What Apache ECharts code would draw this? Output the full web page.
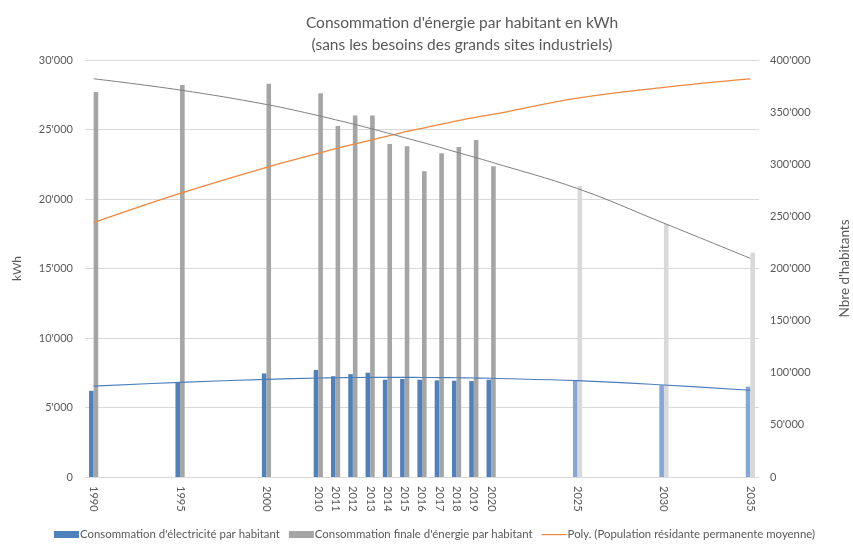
<!DOCTYPE html>
<html>
<head>
<meta charset="utf-8">
<script src="https://cdn.jsdelivr.net/npm/echarts@6/dist/echarts.min.js"></script>
<style>
  html, body { margin: 0; padding: 0; background: #fff; }
  #chart { width: 853px; height: 549px; }
</style>
</head>
<body>
<div id="chart"></div>
<script>
// Years shown on the horizontal axis
const years = ['1990', '1995', '2000', '2010', '2011', '2012', '2013', '2014', '2015',
               '2016', '2017', '2018', '2019', '2020', '2025', '2030', '2035'];
// Number of empty axis slots placed before each year
const gapsBefore = [0, 4, 4, 2, 0, 0, 0, 0, 0, 0, 0, 0, 0, 0, 4, 4, 4];
// First year of the projection period
const projectionFrom = 2025;

// Electricity consumption per inhabitant (kWh)
const electricity = [6200, 6800, 7450, 7700, 7250, 7400, 7500, 7000, 7050,
                     7000, 6950, 6930, 6900, 7000, 6930, 6600, 6500];
// Final energy consumption per inhabitant (kWh)
const finalEnergy = [27700, 28200, 28300, 27600, 25250, 26000, 26000, 23950, 23800,
                     22000, 23300, 23750, 24250, 22350, 20950, 18200, 16150];
// Polynomial trend of the resident population (inhabitants)
const populationTrend = [244000, 272000, 297000, 310500, 315000, 319000, 323000, 327000, 331000,
                         334500, 338000, 341500, 344800, 347500, 363500, 373800, 381800];
// Polynomial trend of electricity consumption (kWh)
const electricityTrend = [6540, 6810, 7025, 7120, 7140, 7160, 7170, 7170, 7170,
                          7160, 7150, 7140, 7120, 7100, 6930, 6620, 6240];
// Polynomial trend of final energy consumption (kWh)
const energyTrend = [28650, 27840, 26800, 26000, 25700, 25400, 25080, 24750, 24410,
                     24080, 23730, 23370, 23020, 22660, 20750, 18260, 15730];

const NAME_ELEC = "Consommation d'électricité par habitant";
const NAME_ENERGY = "Consommation finale d'énergie par habitant";
const NAME_POP = 'Poly. (Population résidante permanente moyenne)';

// Build the slotted category axis and place each value on its year
const categories = [];
const slotOfYear = [];
years.forEach((y, i) => {
  for (let g = 0; g < gapsBefore[i]; g++) categories.push('gap-' + categories.length);
  slotOfYear.push(categories.length);
  categories.push(y);
});

function place(values, styler) {
  const out = categories.map(() => null);
  values.forEach((v, i) => {
    out[slotOfYear[i]] = styler ? styler(v, i) : v;
  });
  return out;
}
const isProjection = i => Number(years[i]) >= projectionFrom;
const barData = (values, base, light) =>
  place(values, (v, i) => ({ value: v, itemStyle: { color: isProjection(i) ? light : base } }));

const fmt = v => String(v).replace(/\B(?=(\d{3})+(?!\d))/g, "'");
const FONT = 'Lato';
const TXT = '#595959';
// Thin horizontal stroke used as the legend key of the trend line
const LINE_KEY = 'path://M0,0 M0,3 L25,3 L25,4.2 L0,4.2 Z M25,7';

const chart = echarts.init(document.getElementById('chart'), null, { renderer: 'canvas' });
chart.setOption({
  animation: false,
  backgroundColor: '#fff',
  title: {
    text: "Consommation d'énergie par habitant en kWh\n(sans les besoins des grands sites industriels)",
    left: 457, textAlign: 'center', top: 7,
    textStyle: { fontFamily: FONT, fontSize: 15.5, fontWeight: 'normal', color: TXT, lineHeight: 22 }
  },
  legend: {
    left: 54, bottom: 9, padding: 0,
    itemWidth: 25, itemHeight: 7, itemGap: 9,
    textStyle: { fontFamily: FONT, fontSize: 11.4, color: TXT, padding: [0, 0, 0, -4] },
    data: [
      { name: NAME_ELEC, icon: 'rect' },
      { name: NAME_ENERGY, icon: 'rect' },
      { name: NAME_POP, icon: LINE_KEY }
    ]
  },
  grid: { left: 85, right: 94, top: 60, bottom: 72, containLabel: false, outerBoundsMode: 'none' },
  xAxis: {
    type: 'category',
    data: categories,
    boundaryGap: true,
    axisLine: { lineStyle: { color: '#d9d9d9' } },
    axisTick: { show: false },
    axisLabel: {
      interval: 0, rotate: -90, margin: 9,
      fontFamily: FONT, fontSize: 11, color: TXT,
      formatter: v => (v.startsWith('gap-') ? '' : v)
    }
  },
  yAxis: [
    {
      type: 'value', min: 0, max: 30000, interval: 5000,
      name: 'kWh', nameLocation: 'middle', nameGap: 62, nameRotate: 90,
      nameTextStyle: { fontFamily: FONT, fontSize: 12, color: TXT },
      axisLine: { show: false }, axisTick: { show: false },
      axisLabel: { fontFamily: FONT, fontSize: 11, color: TXT, margin: 12, formatter: fmt },
      splitLine: { lineStyle: { color: '#d9d9d9' } }
    },
    {
      type: 'value', min: 0, max: 400000, interval: 50000,
      name: "Nbre d'habitants", nameLocation: 'middle', nameGap: 79, nameRotate: 90,
      nameTextStyle: { fontFamily: FONT, fontSize: 13.5, color: TXT },
      axisLine: { show: false }, axisTick: { show: false },
      axisLabel: { fontFamily: FONT, fontSize: 11, color: TXT, margin: 11, formatter: fmt },
      splitLine: { show: false }
    }
  ],
  series: [
    {
      name: NAME_ELEC, type: 'bar', yAxisIndex: 0,
      barWidth: 4.6, barGap: '0%',
      itemStyle: { color: '#4f81bd' },
      data: barData(electricity, '#4f81bd', '#84a7d6')
    },
    {
      name: NAME_ENERGY, type: 'bar', yAxisIndex: 0,
      barWidth: 4.6, barGap: '0%',
      itemStyle: { color: '#a5a5a5' },
      data: barData(finalEnergy, '#a5a5a5', '#d9d9d9')
    },
    {
      name: NAME_POP, type: 'line', yAxisIndex: 1,
      symbol: 'none', smooth: 0.4, connectNulls: true,
      lineStyle: { color: '#f0883e', width: 1.3 },
      itemStyle: { color: '#f0883e' },
      data: place(populationTrend)
    },
    {
      name: 'Poly. (électricité)', type: 'line', yAxisIndex: 0,
      symbol: 'none', smooth: 0.4, connectNulls: true, z: 3,
      lineStyle: { color: '#4a7ebb', width: 1.1 },
      data: place(electricityTrend)
    },
    {
      name: 'Poly. (énergie finale)', type: 'line', yAxisIndex: 0,
      symbol: 'none', smooth: 0.4, connectNulls: true, z: 3,
      lineStyle: { color: '#808080', width: 1 },
      data: place(energyTrend)
    }
  ]
});
</script>
</body>
</html>
